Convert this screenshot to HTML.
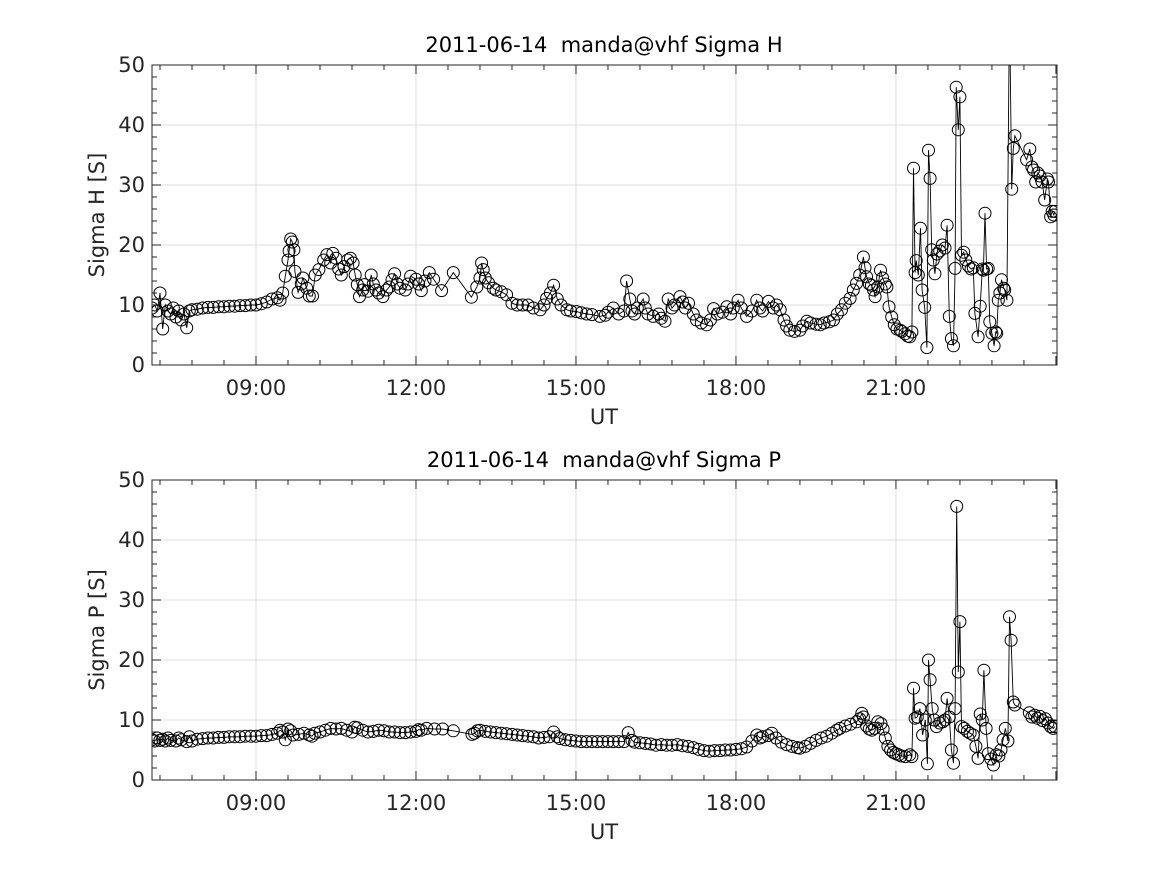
<!DOCTYPE html>
<html><head><meta charset="utf-8"><style>
html,body{margin:0;padding:0;background:#fff;}
svg{display:block;font-family:"DejaVu Sans","Liberation Sans",sans-serif;}
text{white-space:pre;}
</style></head><body>
<svg id="chart" width="1167" height="875" viewBox="0 0 1167 875" xmlns="http://www.w3.org/2000/svg" xml:space="preserve"></svg>
<script>
const hTimes=[7.05,7.1,7.15,7.2,7.25,7.3,7.35,7.4,7.45,7.5,7.55,7.6,7.65,7.7,7.75,7.8,7.9,8.0,8.1,8.2,8.3,8.4,8.5,8.6,8.7,8.8,8.9,9.0,9.1,9.2,9.3,9.4,9.45,9.5,9.55,9.6,9.62,9.65,9.68,9.71,9.73,9.79,9.85,9.88,9.95,10.0,10.06,10.11,10.18,10.27,10.33,10.4,10.44,10.5,10.55,10.6,10.65,10.72,10.77,10.82,10.86,10.9,10.94,11.0,11.03,11.1,11.16,11.2,11.25,11.3,11.38,11.45,11.5,11.55,11.6,11.65,11.7,11.8,11.85,11.9,12.0,12.05,12.1,12.17,12.25,12.33,12.48,12.7,13.04,13.14,13.2,13.23,13.26,13.3,13.36,13.45,13.5,13.6,13.7,13.8,13.9,14.0,14.1,14.2,14.33,14.4,14.45,14.52,14.58,14.65,14.72,14.83,14.9,15.01,15.1,15.2,15.3,15.45,15.55,15.6,15.7,15.8,15.9,15.95,16.01,16.05,16.1,16.15,16.26,16.3,16.35,16.45,16.55,16.6,16.67,16.73,16.8,16.85,16.95,17.0,17.05,17.11,17.2,17.26,17.35,17.45,17.52,17.58,17.65,17.75,17.83,17.9,17.95,18.04,18.1,18.2,18.3,18.39,18.45,18.5,18.61,18.7,18.76,18.83,18.9,18.95,19.01,19.1,19.2,19.25,19.33,19.4,19.5,19.58,19.65,19.75,19.83,19.9,19.98,20.05,20.14,20.2,20.26,20.32,20.39,20.42,20.45,20.5,20.54,20.58,20.61,20.66,20.71,20.75,20.8,20.83,20.87,20.92,20.97,21.02,21.08,21.11,21.17,21.22,21.26,21.3,21.33,21.36,21.38,21.42,21.46,21.49,21.54,21.58,21.61,21.64,21.67,21.7,21.73,21.77,21.82,21.87,21.92,21.96,22.0,22.04,22.08,22.11,22.13,22.17,22.2,22.23,22.27,22.31,22.36,22.41,22.45,22.48,22.54,22.58,22.62,22.64,22.67,22.7,22.73,22.76,22.8,22.84,22.87,22.89,22.92,22.95,22.98,23.02,23.04,23.08,23.13,23.17,23.2,23.23,23.45,23.51,23.55,23.58,23.62,23.66,23.7,23.74,23.79,23.84,23.86,23.9,23.93,23.96,23.98];
const hValues=[9.5,10,9,12,6,10,9,8.5,9.5,8,9,7.5,8.5,6.2,9,9.2,9.3,9.5,9.6,9.6,9.7,9.7,9.8,9.8,9.9,9.9,10,10,10.2,10.5,11,11.2,10.8,12,14.8,17.5,19,21,20.5,19.2,15.6,12.1,13.5,14.5,12.8,11.5,11.5,15,15.9,17.5,18.4,17,18.6,17.8,16,15,16.4,17.5,17.8,17,15,13.4,11.4,12.5,13.4,12.3,15,13.5,12.5,12,11.4,12.5,13,14.2,15.2,13.5,12.8,12.5,13.5,14.8,14.3,13.5,12.4,14,15.4,14.3,12.4,15.4,11.3,13,14.5,17,15.9,14.5,13.7,12.8,12.5,12.2,11.7,10.3,10,10,10,9.5,9.2,10,11.1,12,13.3,11,10,9.2,9,8.9,8.7,8.5,8.4,8.1,8.3,8.8,9.5,8.5,9,14,11,9,8.5,9.5,11,9.5,8.5,8.1,8.5,7.8,7.3,11,9.5,10,11.4,10.5,9.5,10.3,8.5,7.5,7,6.7,7.5,9.4,8.5,8.8,9.7,8.5,9.5,10.8,9.5,8.1,9,10.8,9.5,9,10.6,9.5,10,9.2,7.5,6.5,5.8,5.6,5.8,6.5,7.3,7,6.8,6.7,7,7.2,7.5,8.5,9.2,10.3,11.1,12.5,13.6,15,18,16.2,14.7,13.5,13.3,12.5,11.4,13,15.8,14.5,13.5,13,9.7,8,6.7,6,5.8,5.6,5.2,4.8,4.7,5.5,32.8,15.4,17.4,15,22.8,12.5,9.6,2.9,35.8,31.1,19.2,17.5,15.2,18.5,19,20,19.5,23.3,8.1,4.4,3.2,16.1,46.3,39.2,44.7,18.3,18.8,17.5,16.5,16,16.2,8.6,4.7,9.8,16,15.8,25.3,16,16.1,7.2,5.3,3.2,5.5,5.3,10.8,12,14.2,12.8,12.5,10.8,60,29.3,36.1,38.2,34.2,36,33,32.5,30.5,32,31.5,30.5,27.5,31,30.5,24.7,25.6,25,25.6];
const pTimes=[7.05,7.1,7.15,7.2,7.25,7.3,7.35,7.4,7.5,7.55,7.6,7.7,7.75,7.8,7.9,8.0,8.1,8.2,8.3,8.4,8.5,8.6,8.7,8.8,8.9,9.0,9.1,9.2,9.3,9.4,9.45,9.5,9.55,9.6,9.65,9.7,9.8,9.9,10.0,10.05,10.1,10.2,10.3,10.4,10.5,10.6,10.7,10.8,10.85,10.9,11.0,11.1,11.2,11.3,11.4,11.5,11.6,11.7,11.8,11.9,12.0,12.05,12.1,12.2,12.35,12.5,12.7,13.05,13.1,13.15,13.2,13.3,13.4,13.5,13.6,13.7,13.8,13.9,14.0,14.1,14.2,14.3,14.4,14.5,14.58,14.65,14.7,14.8,14.9,15.0,15.1,15.2,15.3,15.4,15.5,15.6,15.7,15.8,15.9,15.98,16.05,16.1,16.2,16.3,16.4,16.5,16.6,16.7,16.8,16.9,17.0,17.1,17.2,17.3,17.4,17.5,17.6,17.7,17.8,17.9,18.0,18.1,18.2,18.3,18.39,18.45,18.5,18.6,18.67,18.75,18.85,18.95,19.05,19.15,19.2,19.3,19.4,19.5,19.6,19.7,19.8,19.89,19.95,20.05,20.15,20.26,20.32,20.36,20.39,20.45,20.5,20.55,20.6,20.66,20.72,20.76,20.8,20.85,20.9,20.95,21.0,21.05,21.1,21.18,21.26,21.3,21.33,21.36,21.4,21.45,21.5,21.55,21.59,21.61,21.64,21.68,21.72,21.76,21.82,21.88,21.92,21.96,22.0,22.04,22.08,22.11,22.14,22.17,22.2,22.23,22.28,22.34,22.39,22.45,22.5,22.54,22.58,22.62,22.65,22.69,22.73,22.78,22.83,22.88,22.93,22.97,23.01,23.05,23.1,23.13,23.16,23.2,23.23,23.5,23.55,23.6,23.65,23.7,23.75,23.8,23.85,23.9,23.95,23.98];
const pValues=[6.7,6.5,7,6.6,6.8,6.5,7,6.6,6.5,7,6.7,6.4,7.2,6.5,6.8,6.9,7,7,7.1,7.1,7.2,7.2,7.2,7.3,7.3,7.3,7.4,7.4,7.6,7.8,8.3,8,6.7,8.5,8.2,7.5,7.6,7.8,7.5,7.3,7.8,8,8.3,8.6,8.5,8.6,8.3,8,8.8,8.7,8.3,8,8.1,8.3,8.2,8,8,7.9,7.9,8,8.1,8.4,8.3,8.6,8.5,8.5,8.2,7.6,7.8,8.2,8.3,8.1,8,7.9,7.8,7.7,7.6,7.5,7.4,7.3,7.2,7,7.1,7.2,8,7.2,6.9,6.7,6.6,6.5,6.4,6.4,6.4,6.4,6.4,6.4,6.4,6.4,6.4,7.9,6.6,6.3,6.2,6.1,6,5.8,5.9,5.8,5.8,5.9,5.7,5.6,5.4,5.1,4.9,4.8,4.9,4.9,5,5,5.1,5.2,5.5,6.5,7.5,7,7.2,7.4,7.8,7,6.3,5.9,5.6,5.4,5.3,5.6,6.1,6.6,7,7.3,7.8,8.3,8.6,9,9.3,9.7,10.2,11.1,10.5,9,8.5,8.3,8.6,9.7,9.4,8.5,7,5.6,5,4.6,4.4,4.2,4,3.9,4.2,3.9,15.3,10.3,10.5,11.9,7.5,10,2.7,20,16.7,11.9,10,8.9,9.5,9.7,10,13.6,10.5,5,2.8,11.9,45.6,18,26.4,8.9,8.6,8.1,7.8,7.5,5.6,3.6,11,10,18.3,8.6,4.4,3.5,2.5,4.2,4,5,6.7,8.6,6.5,27.2,23.3,13,12.5,11.2,10.5,10.8,10.3,10.6,9.9,10.2,9.5,8.9,8.6,8.9];
const xTickHours=[9,12,15,18,21];
const xTickLabels=["09:00","12:00","15:00","18:00","21:00"];
const yTicks=[0,10,20,30,40,50];
const NS="http://www.w3.org/2000/svg";
const svg=document.getElementById('chart');
const X0=152,X1=1057,T0=7.05,T1=24.02;
function xs(t){return X0+(t-T0)/(T1-T0)*(X1-X0);}
function mk(tag,attrs,parent){const e=document.createElementNS(NS,tag);for(const k in attrs)e.setAttribute(k,attrs[k]);(parent||svg).appendChild(e);return e;}
function panel(key,top,title,ytitle,times,vals){
  const bot=top+300;
  const ys=v=>bot-v/50*300;
  const g=mk('g',{});
  
  
  const cp=mk('clipPath',{id:'clip-'+key},g);
  mk('rect',{x:X0,y:top,width:X1-X0,height:300},cp);
  const grid=mk('g',{stroke:'#dcdcdc','stroke-width':1},g);
  
  
  xTickHours.forEach(h=>{const x=xs(h);mk('line',{x1:x,x2:x,y1:top,y2:bot},grid);});
  yTicks.forEach(v=>{const y=ys(v);mk('line',{x1:X0,x2:X1,y1:y,y2:y},grid);});
  const tk=mk('g',{stroke:'#262626','stroke-width':1},g);
  for(let k=-4;k<=30;k++){const h=9+0.6*k;if(h<T0||h>T1)continue;const x=xs(h);const major=Math.abs((h-9)/3-Math.round((h-9)/3))<1e-6;const L=major?9:5;
    mk('line',{x1:x,x2:x,y1:bot,y2:bot-L},tk);mk('line',{x1:x,x2:x,y1:top,y2:top+L},tk);}
  for(let v=0;v<=50;v+=2){const y=ys(v);const L=(v%10===0)?9:5;
    mk('line',{x1:X0,x2:X0+L,y1:y,y2:y},tk);mk('line',{x1:X1,x2:X1-L,y1:y,y2:y},tk);}
  const dg=mk('g',{'clip-path':'url(#clip-'+key+')'},g);
  
  
  const pts=times.map((t,i)=>xs(t).toFixed(1)+','+ys(vals[i]).toFixed(1)).join(' ');
  const pl=mk('polyline',{points:pts,fill:'none',stroke:'#000','stroke-width':0.9},dg);
  
  
  times.forEach((t,i)=>{const c=mk('circle',{cx:xs(t).toFixed(1),cy:ys(vals[i]).toFixed(1),r:6,fill:'none',stroke:'#000','stroke-width':1},dg);
    
    });
  const fr=mk('rect',{x:X0,y:top,width:X1-X0,height:300,fill:'none',stroke:'#262626','stroke-width':1},g);
  
  
  xTickHours.forEach((h,i)=>{const t=mk('text',{x:xs(h),y:bot+30,'text-anchor':'middle','font-size':21,fill:'#262626'},g);t.textContent=xTickLabels[i];
    
    });
  yTicks.forEach(v=>{const t=mk('text',{x:X0-7,y:ys(v)+7,'text-anchor':'end','font-size':21,fill:'#262626'},g);t.textContent=v;
    
    });
  const xt=mk('text',{x:604,y:bot+59,'text-anchor':'middle','font-size':21,fill:'#262626'},g);xt.textContent='UT';
  
  
  const yt=mk('text',{x:0,y:0,'text-anchor':'middle','font-size':21,fill:'#262626',transform:'translate(104,'+(top+150)+') rotate(-90)'},g);yt.textContent=ytitle;
  
  
  const tt=mk('text',{x:604,y:top-13,'text-anchor':'middle','font-size':21,fill:'#000'},g);tt.textContent=title;
  
  
}
panel('sigma-h',65,'2011-06-14  manda@vhf Sigma H','Sigma H [S]',hTimes,hValues);
panel('sigma-p',480,'2011-06-14  manda@vhf Sigma P','Sigma P [S]',pTimes,pValues);
</script>
</body></html>
